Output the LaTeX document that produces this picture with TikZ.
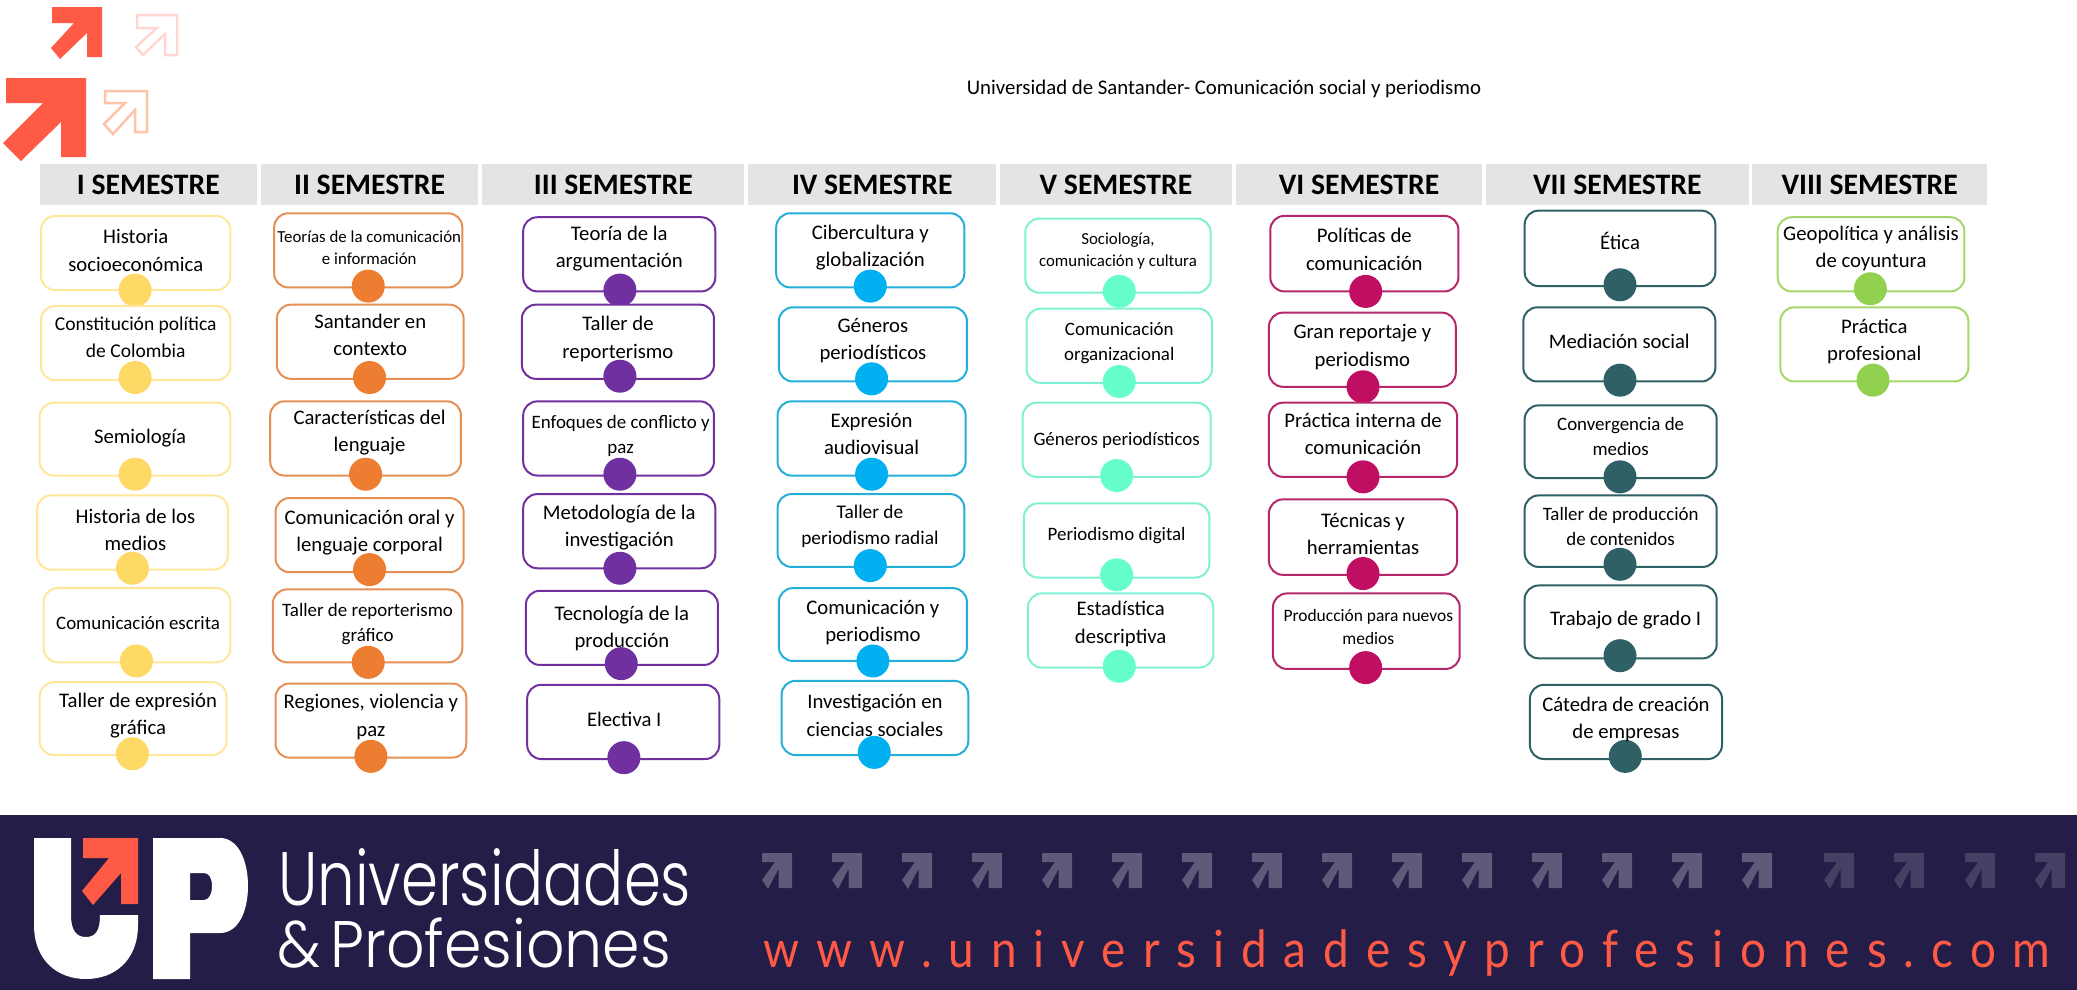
\documentclass[tikz,border=0pt]{standalone}
\usepackage{fontspec}
\setmainfont{Carlito}
\newfontfamily\logofont{Poppins Light}
\newfontfamily\urlfont[LetterSpace=37]{Lato}
\definecolor{cyel}{HTML}{FFD966}\definecolor{cyelb}{HTML}{FFE699}
\definecolor{cora}{HTML}{ED7D31}\definecolor{corab}{HTML}{E58F55}
\definecolor{cpur}{HTML}{7030A0}
\definecolor{cblu}{HTML}{00B0F0}\definecolor{cblub}{HTML}{23AFD8}
\definecolor{ctea}{HTML}{66FFCC}\definecolor{cteab}{HTML}{7FF0D2}
\definecolor{ccri}{HTML}{C00F63}\definecolor{ccrib}{HTML}{B4286B}
\definecolor{cdar}{HTML}{2F6066}
\definecolor{cgre}{HTML}{92D050}\definecolor{cgreb}{HTML}{A5D76A}
\definecolor{navy}{HTML}{231D47}
\definecolor{redup}{HTML}{FF5A45}
\definecolor{hgrey}{HTML}{E4E4E4}
\tikzset{
 coursebox/.style={draw,fill=white,line width=2pt,rounded corners=14bp,inner sep=0pt},
 dotnode/.style={circle,inner sep=0pt,minimum size=33bp},
 coursetext/.style={align=center,inner sep=0pt,text=black},
 headnode/.style={fill=hgrey,inner sep=0pt,font=\bfseries\fontsize{29.8}{32}\selectfont,text=black},
 fsn/.style={font=\fontsize{20.8}{27.5}\selectfont},
 fsc/.style={font=\fontsize{19.6}{26.5}\selectfont},
 fsm/.style={font=\fontsize{19}{25}\selectfont},
 fss/.style={font=\fontsize{16.9}{23}\selectfont},
 fsp/.style={font=\fontsize{17.5}{23}\selectfont},
}
\def\parsefour#1/#2/#3/#4\relax{\def\xa{#1}\def\ya{#2}\def\xb{#3}\def\yb{#4}}
\def\parsetwo#1/#2\relax{\def\dx{#1}\def\dy{#2}}
% id, border colour, dot colour, box, dot, size, text
\newcommand\course[7]{%
 \parsefour#4\relax\parsetwo#5\relax
 \pgfmathsetmacro\bw{(\xb-\xa)*1.3246}\pgfmathsetmacro\bh{(\yb-\ya)*1.3246}
 \node[coursebox,draw=#2,minimum width=\bw bp,minimum height=\bh bp] (#1) at ({(\xa+\xb)/2},{(\ya+\yb)/2}) {};
 \node[dotnode,fill=#3] (#1dot) at (\dx,\dy) {};
 \node[coursetext,#6] (#1txt) at ({(\xa+\xb)/2},{\ya+26}) {#7};
}
\newcommand\head[4]{%
 \pgfmathsetmacro\bw{(#3-#2)*1.3246}\pgfmathsetmacro\bh{31*1.3246}
 \node[headnode,minimum width=\bw bp,minimum height=\bh bp] (#1) at ({(#2+#3)/2},139.5) {#4};
}
\newcommand\farrow[2]{\fill[#2,shift={(#1,853)}] (0,0)--(30,0)--(30,35)--(16.5,35)--(16.5,16)--(6,36)--(0,27)--(13,9)--(0,9)--cycle;}
\begin{document}
\begin{tikzpicture}[x=1bp,y=-1bp]
\useasboundingbox (0,0) rectangle (2077,990);
% top arrows
\fill[redup] (52,7)--(102,7)--(102,57)--(87,57)--(87,33)--(60,59)--(51,48)--(74,23)--(52,23)--cycle;
\fill[redup] (6,78)--(86,78)--(86,157)--(61,157)--(61,122)--(21,161)--(3,143)--(43,103)--(6,103)--cycle;
\draw[draw=redup!25,line width=2.5bp] (137,15)--(177,15)--(177,55)--(165,55)--(165,34)--(143,55)--(136,47)--(157,28)--(137,28)--cycle;
\draw[draw=orange!40!redup!40,line width=2.5bp] (105,91)--(147,91)--(147,132)--(135,132)--(135,110)--(113,134)--(104,124)--(125,103)--(105,103)--cycle;
\node[inner sep=0pt,font=\fontsize{20.9}{24}\selectfont] (title) at (1224,89) {Universidad de Santander- Comunicación social y periodismo};
\begin{scope}[x=1.3246bp,y=-1.3246bp]
\head{h1}{30}{194}{I SEMESTRE}
\head{h2}{197}{361}{II SEMESTRE}
\head{h3}{364}{562}{III SEMESTRE}
\head{h4}{565}{752}{IV SEMESTRE}
\head{h5}{755}{930}{V SEMESTRE}
\head{h6}{933}{1119}{VI SEMESTRE}
\head{h7}{1122}{1320}{VII SEMESTRE}
\head{h8}{1323}{1500}{VIII SEMESTRE}
% I
\course{a1}{cyelb}{cyel}{31/163/174/219}{102/219}{fsn}{Historia\\socioeconómica}
\course{a2}{cyelb}{cyel}{31/231/174/287}{102/285}{fsc,yshift=3bp}{Constitución política\\de Colombia}
\course{a3}{cyelb}{cyel}{30/304/174/359}{102/358}{fsn,xshift=5bp,yshift=-1bp}{Semiología}
\course{a4}{cyelb}{cyel}{28/374/172/430}{100/429}{fsn,xshift=3bp}{Historia de los\\medios}
\course{a5}{cyelb}{cyel}{33/444/174/500}{103/499}{fsm,xshift=1bp}{Comunicación escrita}
\course{a6}{cyelb}{cyel}{30/515/171/570}{100/569}{fsn,xshift=5bp,yshift=1bp}{Taller de expresión\\gráfica}
% II
\course{b1}{corab}{cora}{207/161/349/217}{278/216}{fss,xshift=1bp}{Teorías de la comunicación\\e información}
\course{b2}{corab}{cora}{209/230/350/286}{279/285}{fsn,yshift=4bp}{Santander en\\contexto}
\course{b3}{corab}{cora}{204/303/348/359}{276/358}{fsn,xshift=4bp,yshift=3bp}{Características del\\lenguaje}
\course{b4}{corab}{cora}{208/376/350/432}{279/430}{fsn}{Comunicación oral y\\lenguaje corporal}
\course{b5}{corab}{cora}{206/445/349/500}{278/500}{fsm}{Taller de reporterismo\\gráfico}
\course{b6}{corab}{cora}{208/516/352/572}{280/571}{fsn,yshift=1bp}{Regiones, violencia y\\paz}
% III
\course{c1}{cpur}{cpur}{395/164/540/220}{468/219}{fsn,yshift=3bp}{Teoría de la\\argumentación}
\course{c2}{cpur}{cpur}{394/230/539/286}{468/284}{fsn}{Taller de\\reporterismo}
\course{c3}{cpur}{cpur}{395/303/539/359}{468/358}{fsm,xshift=2bp}{Enfoques de conflicto y\\paz}
\course{c4}{cpur}{cpur}{395/373/540/429}{468/429}{fsn,yshift=1bp}{Metodología de la\\investigación}
\course{c5}{cpur}{cpur}{397/446/542/502}{469/501}{fsn,yshift=-3bp}{Tecnología de la\\producción}
\course{c6}{cpur}{cpur}{398/517/543/573}{471/572}{fsn,xshift=1bp}{Electiva I}
% IV
\course{d1}{cblub}{cblu}{586/161/728/217}{657/216}{fsn}{Cibercultura y\\globalización}
\course{d2}{cblub}{cblu}{588/232/730/288}{658/286}{fsn,yshift=1bp}{Géneros\\periodísticos}
\course{d3}{cblub}{cblu}{587/303/729/359}{658/358}{fsn,yshift=2bp}{Expresión\\audiovisual}
\course{d4}{cblub}{cblu}{587/373/728/428}{657/427}{font=\fontsize{19.4}{26.5}\selectfont,yshift=2bp,xshift=-1bp}{Taller de\\periodismo radial}
\course{d5}{cblub}{cblu}{588/444/730/499}{659/499}{fsn}{Comunicación y\\periodismo}
\course{d6}{cblub}{cblu}{590/514/731/570}{660/568}{fsn}{Investigación en\\ciencias sociales}
% V
\course{e1}{cteab}{ctea}{774/165/914/221}{845/220}{fss,yshift=2bp}{Sociología,\\comunicación y cultura}
\course{e2}{cteab}{ctea}{775/233/915/289}{845/288}{fsm}{Comunicación\\organizacional}
\course{e3}{cteab}{ctea}{772/304/914/360}{843/359}{fsm,yshift=-3bp}{Géneros periodísticos}
\course{e4}{cteab}{ctea}{773/380/913/436}{843/434}{fsm,yshift=2bp}{Periodismo digital}
\course{e5}{cteab}{ctea}{776/448/916/504}{845/503}{fsn,yshift=4bp}{Estadística\\descriptiva}
% VI
\course{f1}{ccrib}{ccri}{959/163/1101/220}{1031/220}{fsn,yshift=1bp}{Políticas de\\comunicación}
\course{f2}{ccrib}{ccri}{958/236/1099/292}{1029/292}{fsn}{Gran reportaje y\\periodismo}
\course{f3}{ccrib}{ccri}{958/304/1100/360}{1029/360}{fsn,yshift=3bp}{Práctica interna de\\comunicación}
\course{f4}{ccrib}{ccri}{958/377/1100/434}{1029/433}{fsn}{Técnicas y\\herramientas}
\course{f5}{ccrib}{ccri}{961/448/1102/505}{1031/504}{fsp,yshift=1bp,xshift=2bp}{Producción para nuevos\\medios}
% VII
\course{g1}{cdar}{cdar}{1151/159/1295/216}{1223/215}{fsn,yshift=4bp}{Ética}
\course{g2}{cdar}{cdar}{1150/232/1295/288}{1223/287}{fsn}{Mediación social}
\course{g3}{cdar}{cdar}{1151/306/1296/361}{1223/360}{fsm,yshift=3bp}{Convergencia de\\medios}
\course{g4}{cdar}{cdar}{1151/374/1296/428}{1223/426}{fsm,yshift=3bp}{Taller de producción\\de contenidos}
\course{g5}{cdar}{cdar}{1151/442/1296/497}{1223/495}{fsn,xshift=5bp}{Trabajo de grado I}
\course{g6}{cdar}{cdar}{1155/517/1300/573}{1227/571}{fsn}{Cátedra de creación\\de empresas}
% VIII
\course{i1}{cgreb}{cgre}{1342/164/1483/220}{1412/218}{fsn,yshift=3bp}{Geopolítica y análisis\\de coyuntura}
\course{i2}{cgreb}{cgre}{1344/232/1486/288}{1414/287}{fsn}{Práctica\\profesional}
\end{scope}
% footer
\fill[navy] (0,815) rectangle (2077,990);
\fill[white] (34,838)--(71,838)--(71,915) .. controls (71,930) and (76,937) .. (86,937) .. controls (96,937) and (100,930) .. (100,915)--(138,915)--(138,925) .. controls (138,960) and (115,979) .. (86,979) .. controls (57,979) and (34,960) .. (34,925)--cycle;
\fill[redup] (83,838)--(138,838)--(138,904)--(121,904)--(121,873)--(93,905)--(82,891)--(109,858)--(83,858)--cycle;
\fill[white,even odd rule] (153,838)--(220,838) .. controls (238,838) and (248,860) .. (248,886) .. controls (248,912) and (238,933) .. (220,933)--(190,933)--(190,979)--(153,979)--cycle (190,873)--(190,900)--(204,900) .. controls (209,900) and (212,894) .. (212,886) .. controls (212,878) and (209,873) .. (204,873)--cycle;
\node[anchor=base west,inner sep=0pt,text=white,font=\logofont\fontsize{76}{80}\selectfont] (uni) at (278,905) {\scalebox{0.785}[1]{Universidades}};
\node[anchor=base west,inner sep=0pt,text=white,font=\logofont\fontsize{66}{80}\selectfont] (prof) at (277,967) {\scalebox{0.915}[1]{\&\,Profesiones}};
\foreach \k in {0,...,14}{\pgfmathsetmacro\xx{762+70*\k}\farrow{\xx}{white!27!navy}}
\foreach \xx in {1824,1894,1965,2035}{\farrow{\xx}{white!15!navy}}
\node[anchor=base west,inner sep=0pt,text=redup,font=\urlfont\fontsize{46}{52}\selectfont] (url) at (763,967) {\scalebox{1}[1.12]{www.universidadesyprofesiones.com}};
\end{tikzpicture}
\end{document}
